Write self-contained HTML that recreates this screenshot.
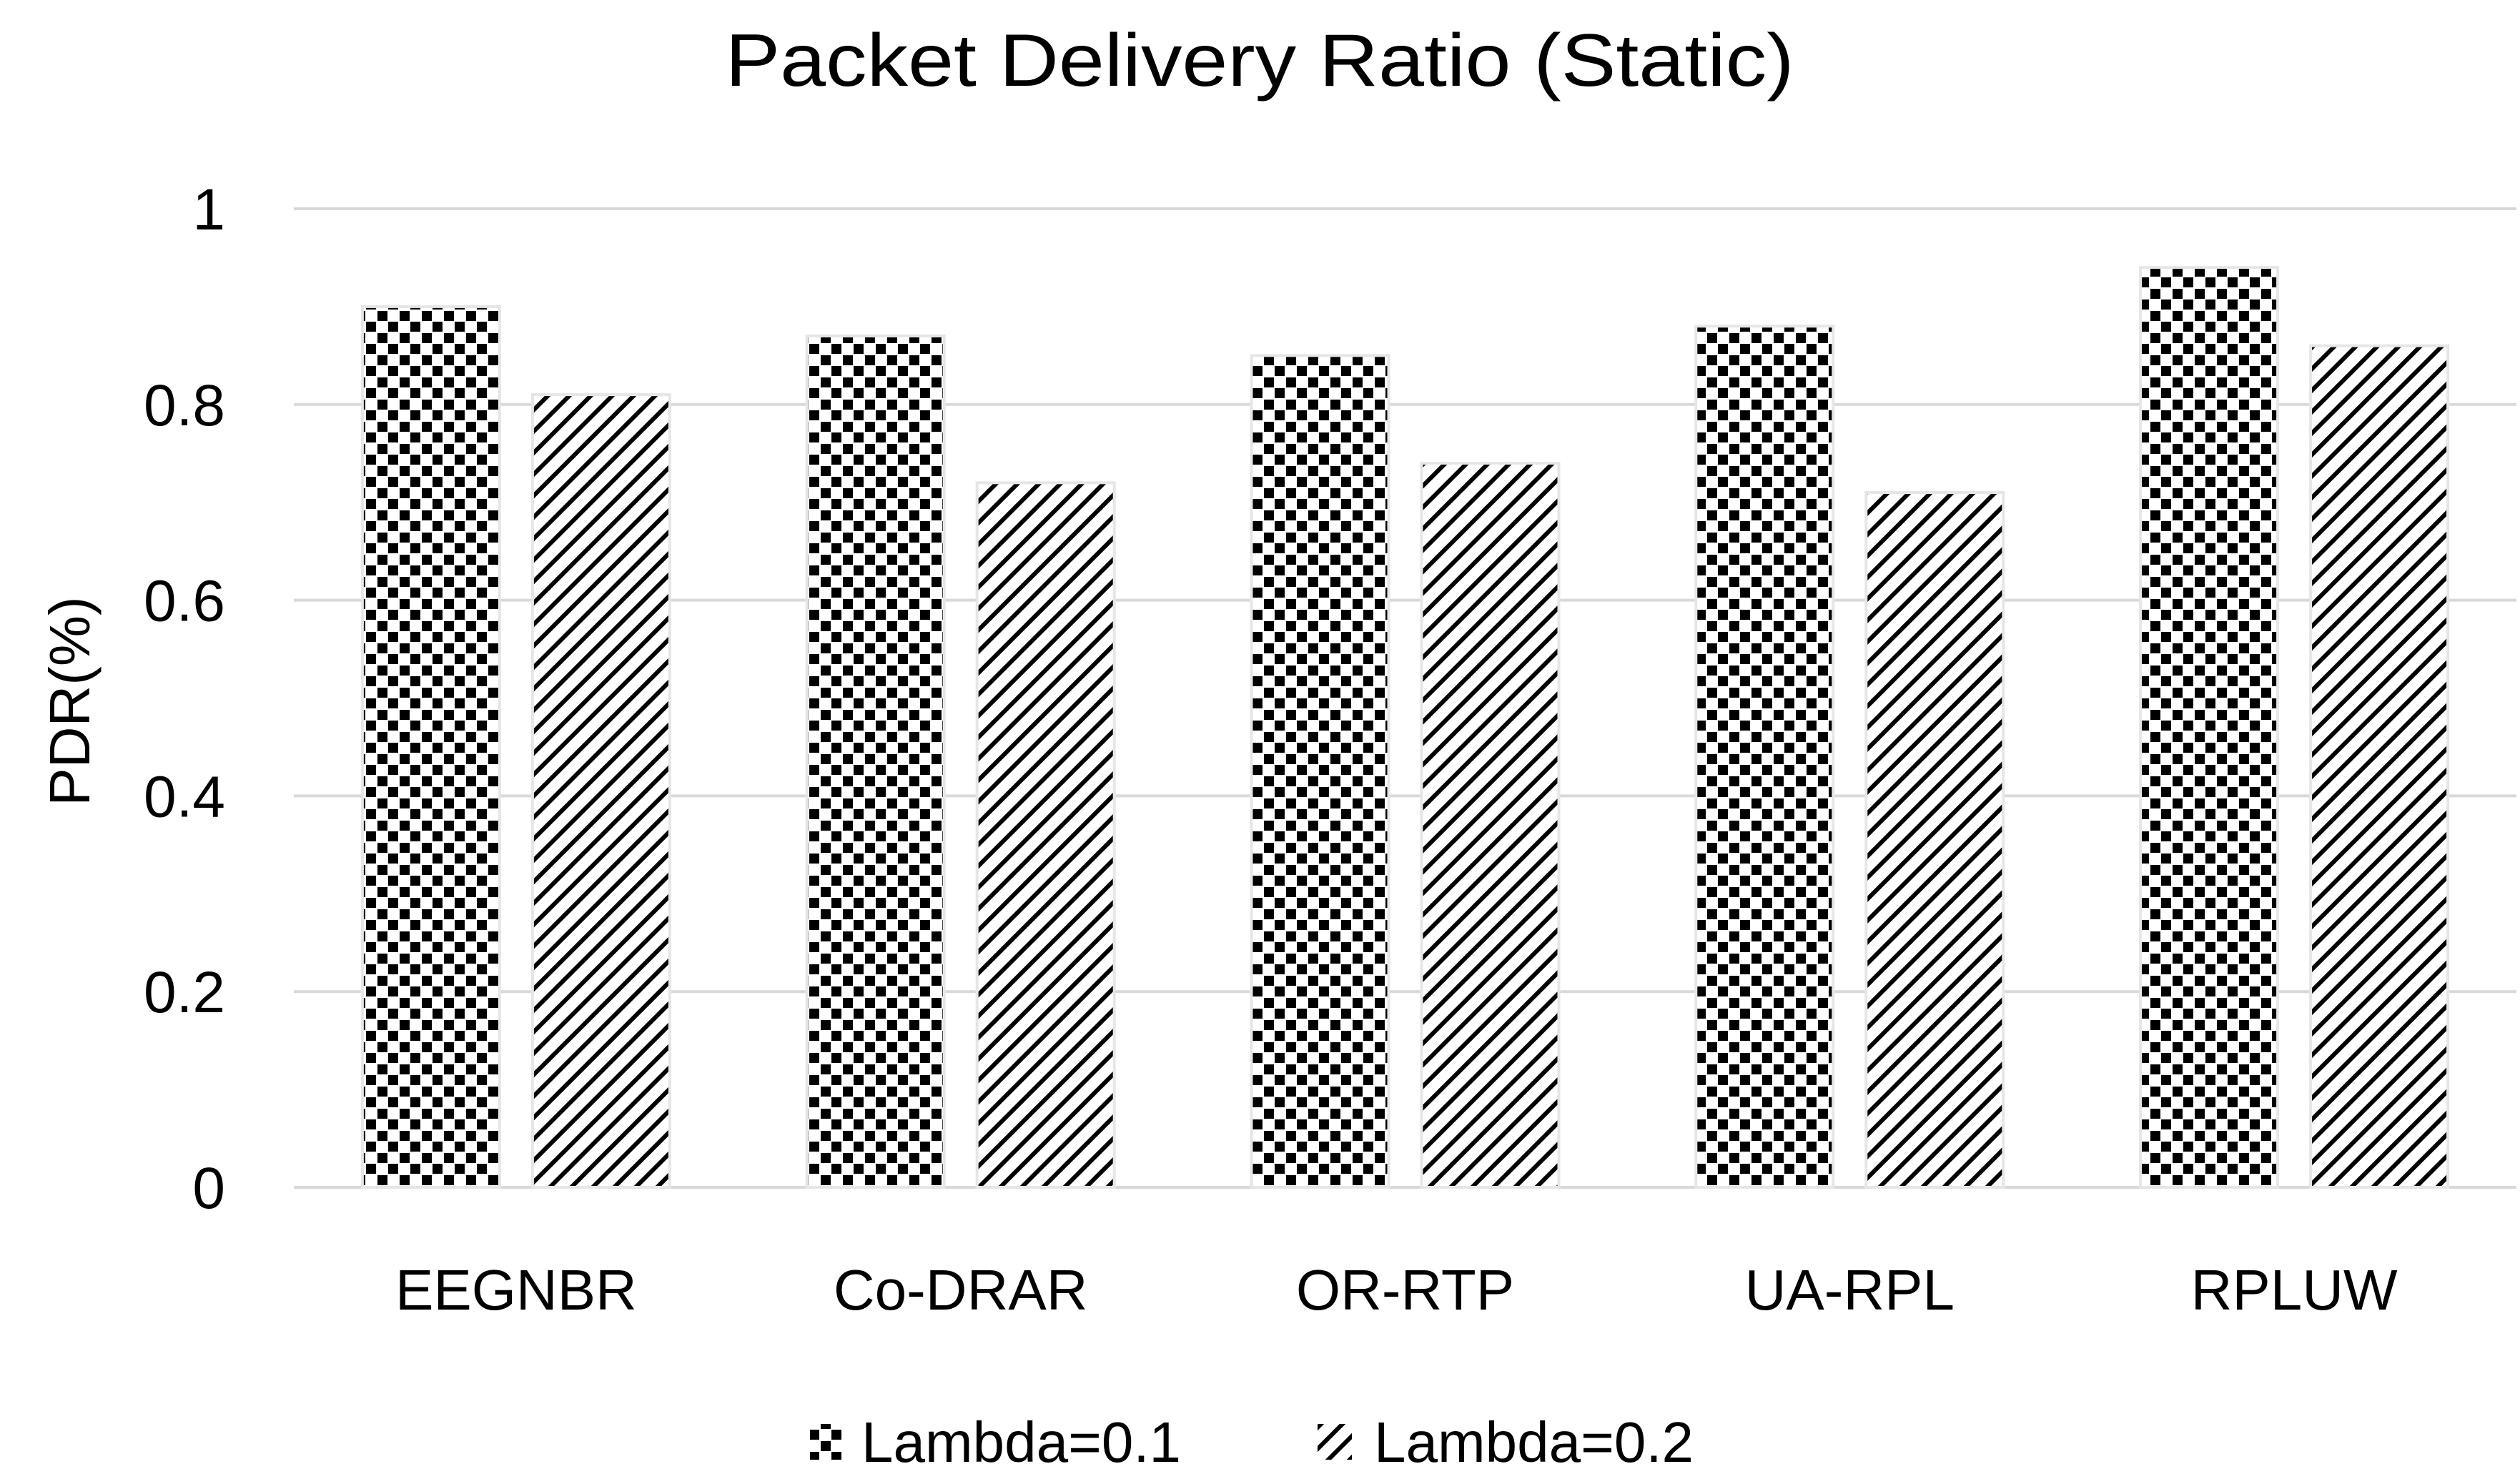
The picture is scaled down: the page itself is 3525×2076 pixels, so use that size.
<!DOCTYPE html>
<html><head><meta charset="utf-8"><style>
html,body{margin:0;padding:0;background:#fff;}
svg{display:block;font-family:"Liberation Sans",sans-serif;}
</style></head><body>
<svg id="chart" width="3525" height="2076" viewBox="0 0 3525 2076">
<defs>
<pattern id="checker" patternUnits="userSpaceOnUse" width="31" height="31">
<rect width="31" height="31" fill="#fff"/>
<rect x="1" y="1" width="14" height="14" fill="#000"/>
<rect x="16" y="16" width="14" height="14" fill="#000"/>
</pattern>
<pattern id="diag" patternUnits="userSpaceOnUse" width="30" height="30">
<rect width="30" height="30" fill="#fff"/>
<path d="M-5,35 L35,-5 M-35,35 L35,-35 M-5,65 L65,-5" stroke="#000" stroke-width="6"/>
</pattern>
</defs>
<text x="1762" y="120" font-size="104" text-anchor="middle" textLength="1495" lengthAdjust="spacingAndGlyphs">Packet Delivery Ratio (Static)</text>
<g id="grid"></g>
<g id="bars"></g>
<g id="xlabels"></g>
<text transform="translate(125,981) rotate(-90)" font-size="80" text-anchor="middle">PDR(%)</text>
<g>
<g>
<rect x="1133" y="1992" width="46" height="50" fill="url(#checker)"/>
<text x="1205" y="2045" font-size="80">Lambda=0.1</text>
</g>
<g>
<rect x="1843" y="1992" width="48" height="50" fill="url(#diag)"/>
<text x="1922" y="2045" font-size="80">Lambda=0.2</text>
</g>
</g>
</svg>
<script>
const categories = ["EEGNBR","Co-DRAR","OR-RTP","UA-RPL","RPLUW"];
const lambda01 = [0.90,0.87,0.85,0.88,0.94];
const lambda02 = [0.81,0.72,0.74,0.71,0.86];
const yTicks = [0,0.2,0.4,0.6,0.8,1];
const yTickLabels = ["0","0.2","0.4","0.6","0.8","1"];

const NS="http://www.w3.org/2000/svg";
const y0=1661, y1=292, xL=411, xR=3520;
function yScale(v){return y0+(y1-y0)*v;}
const catW=(xR-xL)/categories.length;
function xCat(i){return xL+catW*(i+0.5);}
const barW=192, gap=46;

const grid=document.getElementById('grid');
yTicks.forEach((t,i)=>{
  const l=document.createElementNS(NS,'line');
  l.setAttribute('x1',xL);l.setAttribute('x2',xR);
  l.setAttribute('y1',yScale(t));l.setAttribute('y2',yScale(t));
  l.setAttribute('stroke','#d9d9d9');l.setAttribute('stroke-width','4');
  
  
  grid.appendChild(l);
  const tx=document.createElementNS(NS,'text');
  tx.setAttribute('x',315);tx.setAttribute('y',yScale(t)+29);
  tx.setAttribute('font-size','82');tx.setAttribute('text-anchor','end');
  tx.textContent=yTickLabels[i];
  
  
  grid.appendChild(tx);
});

const bars=document.getElementById('bars');
const xl=document.getElementById('xlabels');
categories.forEach((c,i)=>{
  const cx=xCat(i);
  [[lambda01,'url(#checker)',cx-gap/2-barW,'bar-lambda-0.1'],[lambda02,'url(#diag)',cx+gap/2,'bar-lambda-0.2']].forEach(s=>{
    const v=s[0][i];
    const r=document.createElementNS(NS,'rect');
    r.setAttribute('x',s[2]);r.setAttribute('width',barW);
    r.setAttribute('y',yScale(v));r.setAttribute('height',y0-yScale(v));
    r.setAttribute('fill',s[1]);
    r.setAttribute('stroke','#e6e6e6');r.setAttribute('stroke-width','4');
    
    
    bars.appendChild(r);
  });
  const t=document.createElementNS(NS,'text');
  t.setAttribute('x',cx);t.setAttribute('y',1832);
  t.setAttribute('font-size','80');t.setAttribute('text-anchor','middle');
  t.textContent=c;
  
  
  xl.appendChild(t);
});
</script>
</body></html>
